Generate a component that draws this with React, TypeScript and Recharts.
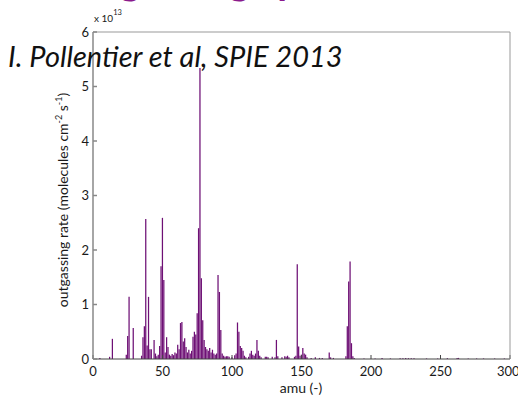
import React from 'react'
import { BarChart, Bar, XAxis, YAxis } from 'recharts'

// mass (amu) and outgassing rate (x 1e13 molecules cm^-2 s^-1)
const amu = [
  5, 12, 14, 24, 25, 26, 29, 35, 36, 37, 38, 39, 40, 41, 42, 44, 45, 46, 47, 48,
  49, 50, 51, 52, 53, 54, 55, 56, 57, 58, 59, 60, 61, 62, 63, 64, 65, 66, 67, 68,
  69, 70, 71, 72, 73, 74, 75, 76, 77, 78, 79, 80, 81, 82, 83, 84, 85, 86, 87, 88,
  89, 90, 91, 92, 93, 94, 95, 96, 97, 98, 100, 102, 103, 104, 105, 106, 107, 108, 109, 110,
  112, 113, 114, 115, 116, 117, 118, 119, 120, 121, 124, 125, 126, 129, 131, 132, 133, 136, 138, 139,
  140, 141, 145, 146, 147, 148, 149, 150, 151, 152, 153, 154, 157, 160, 163, 165, 170, 171, 173, 182,
  183, 184, 185, 186, 187, 188, 195, 203, 208, 214, 221, 223, 225, 227, 229, 231, 240, 248, 255, 262,
  263, 270, 276, 281, 289, 296,
]
const rate = [
  0.02, 0.04, 0.37, 0.08, 0.42, 1.14, 0.57, 0.06, 0.4, 0.6, 2.57, 0.25, 1.14, 0.18, 0.18, 0.35, 0.1, 0.05, 0.08, 0.24,
  1.7, 2.59, 1.45, 0.12, 0.4, 0.22, 0.08, 0.06, 0.09, 0.07, 0.12, 0.1, 0.26, 0.18, 0.66, 0.68, 0.32, 0.38, 0.22, 0.12,
  0.17, 0.1, 0.15, 0.41, 0.5, 0.45, 0.84, 2.4, 5.34, 1.48, 0.71, 0.35, 0.22, 0.18, 0.15, 0.2, 0.12, 0.17, 0.1, 0.08,
  0.1, 1.54, 1.23, 0.53, 0.1, 0.06, 0.04, 0.05, 0.05, 0.04, 0.03, 0.07, 0.1, 0.67, 0.5, 0.24, 0.2, 0.15, 0.06, 0.03,
  0.04, 0.1, 0.15, 0.08, 0.06, 0.1, 0.35, 0.15, 0.06, 0.03, 0.04, 0.04, 0.03, 0.04, 0.03, 0.35, 0.05, 0.03, 0.05, 0.04,
  0.06, 0.03, 0.04, 0.06, 1.74, 0.23, 0.06, 0.08, 0.2, 0.1, 0.08, 0.03, 0.02, 0.03, 0.02, 0.02, 0.12, 0.03, 0.02, 0.05,
  0.6, 1.42, 1.79, 0.29, 0.05, 0.02, 0.01, 0.01, 0.02, 0.01, 0.015, 0.015, 0.02, 0.015, 0.015, 0.015, 0.01, 0.01, 0.015, 0.02,
  0.02, 0.01, 0.01, 0.01, 0.01, 0.01,
]
const xTicks = [0, 50, 100, 150, 200, 250, 300]
const yTicks = [0, 1, 2, 3, 4, 5, 6]

const data = amu.map((m, i) => ({ amu: m, rate: rate[i] }))

const PURPLE = '#6e1075'
const FONT = 'Lato, "Open Sans", sans-serif'
const TEXT = '#1a1a1a'

export default function App() {
  return (
    <div style={{ position: 'absolute', left: 0, top: 0, width: 518, height: 397, background: '#fff', overflow: 'hidden' }}>
      <BarChart
        width={518}
        height={397}
        data={data}
        margin={{ top: 31, right: 7, bottom: 8, left: 63 }}
      >
        <XAxis
          dataKey="amu"
          type="number"
          domain={[0, 300]}
          ticks={xTicks}
          allowDataOverflow
          height={30}
          tickSize={-4}
          tickMargin={12}
          stroke="#444"
          tick={{ fill: TEXT, fontSize: 13, fontFamily: FONT }}
        />
        <XAxis
          xAxisId="top"
          dataKey="amu"
          orientation="top"
          type="number"
          domain={[0, 300]}
          ticks={xTicks}
          allowDataOverflow
          height={1}
          tickSize={-4}
          tick={false}
          stroke="#999"
        />
        <YAxis
          type="number"
          domain={[0, 6]}
          ticks={yTicks}
          allowDataOverflow
          width={30}
          tickSize={-4}
          tickMargin={8}
          stroke="#888"
          strokeWidth={1.5}
          tick={{ fill: TEXT, fontSize: 13, fontFamily: FONT }}
        />
        <YAxis
          yAxisId="right"
          dataKey="rate"
          orientation="right"
          type="number"
          domain={[0, 6]}
          ticks={yTicks}
          allowDataOverflow
          width={1}
          tickSize={-4}
          tick={false}
          stroke="#999"
        />
        {/* invisible copy so the top/right frame axes get drawn */}
        <Bar
          xAxisId="top"
          yAxisId="right"
          dataKey="rate"
          fill="none"
          barSize={1.6}
          isAnimationActive={false}
        />
        <Bar dataKey="rate" fill={PURPLE} barSize={1.8} isAnimationActive={false} />
      </BarChart>
      <svg
        width={518}
        height={397}
        style={{ position: 'absolute', left: 0, top: 0, pointerEvents: 'none' }}
      >
        <text x={50} y={-6} fontSize={40} fontWeight={700} fontFamily={FONT} fill="#8a1a8c">
          Outgassing spectrum
        </text>
        <text x={94} y={22} fontSize={10} fontFamily={FONT} fill={TEXT}>
          x 10<tspan dy={-7} fontSize={7.5}>13</tspan>
        </text>
        <text x={8} y={67} fontSize={29} fontStyle="italic" fontFamily={FONT} fill="#111">
          I. Pollentier et al, SPIE 2013
        </text>
        <text
          x={68}
          y={200}
          transform="rotate(-90, 68, 200)"
          textAnchor="middle"
          fontSize={14}
          fontFamily={FONT}
          fill={TEXT}
        >
          outgassing rate (molecules cm<tspan dy={-6} fontSize={9}>-2</tspan>
          <tspan dy={6}> s</tspan>
          <tspan dy={-6} fontSize={9}>-1</tspan>
          <tspan dy={6}>)</tspan>
        </text>
        <text x={301} y={393} textAnchor="middle" fontSize={14} fontFamily={FONT} fill={TEXT}>
          amu (-)
        </text>
      </svg>
    </div>
  )
}
